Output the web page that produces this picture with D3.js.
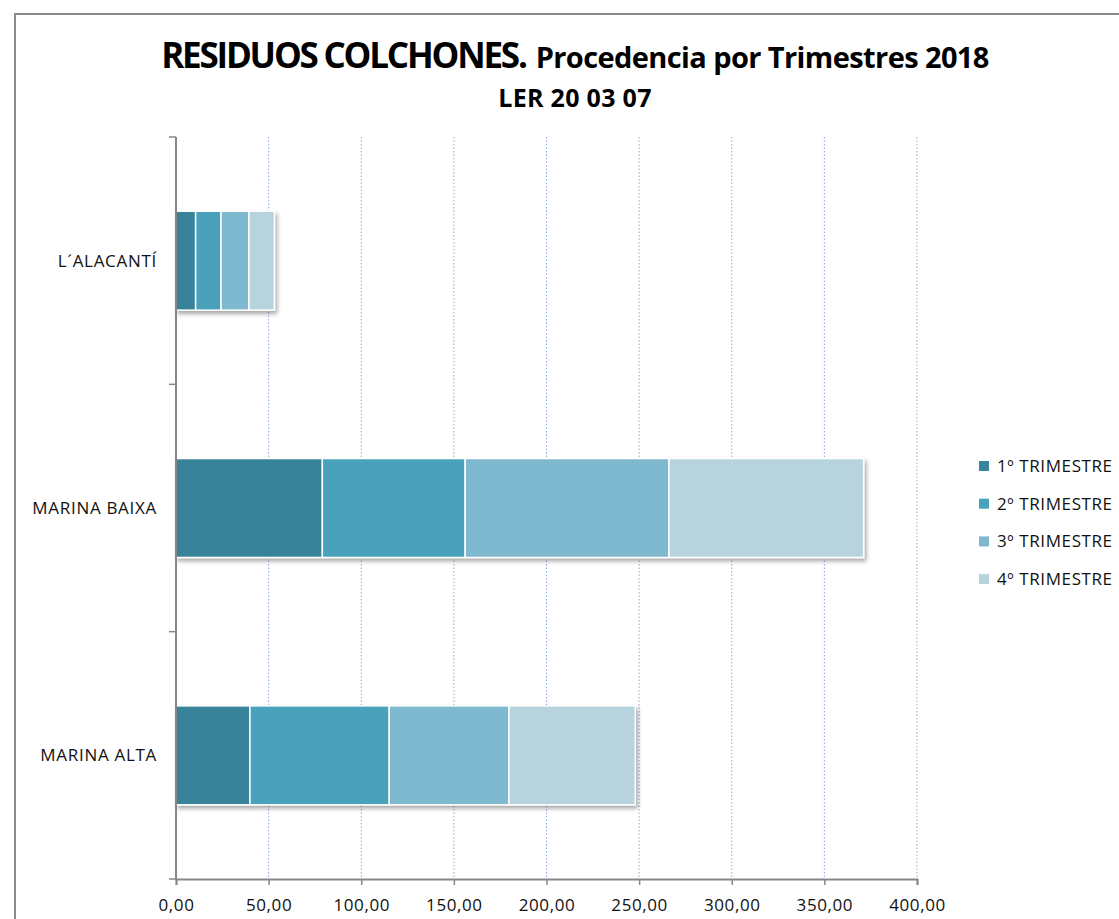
<!DOCTYPE html>
<html>
<head>
<meta charset="utf-8">
<script src="https://d3js.org/d3.v7.min.js"></script>
<style>
  body { margin: 0; background: #fff; }
  text { font-family: "Open Sans", "Noto Sans", sans-serif; }
</style>
</head>
<body>
<script>
var width = 1119,
    height = 919;

// data
var categories = ["L´ALACANTÍ", "MARINA BAIXA", "MARINA ALTA"];
var seriesNames = ["1º TRIMESTRE", "2º TRIMESTRE", "3º TRIMESTRE", "4º TRIMESTRE"];
var t1 = [10.6, 79.0, 39.9],
    t2 = [13.7, 77.1, 75.2],
    t3 = [15.0, 110.0, 64.6],
    t4 = [13.8, 105.1, 68.2];
var xTicks = [0, 50, 100, 150, 200, 250, 300, 350, 400];
var colors = ["#37839a", "#48a1bb", "#7eb9cf", "#b7d4de"];

var margin = {left: 176, top: 137};
var plotW = 917 - 176,
    plotH = 879 - 137;

var locale = d3.formatLocale({decimal: ",", thousands: ".", grouping: [3], currency: ["", "€"]});
var fmt = locale.format(".2f");

var svg = d3.select("body").append("svg")
    .attr("width", width)
    .attr("height", height);

var defs = svg.append("defs");
var shadow = defs.append("filter")
    .attr("id", "shadow")
    .attr("x", "-5%").attr("y", "-10%")
    .attr("width", "115%").attr("height", "140%");
shadow.append("feDropShadow")
    .attr("dx", 2).attr("dy", 3)
    .attr("stdDeviation", 2)
    .attr("flood-color", "#000")
    .attr("flood-opacity", 0.35);

// outer frame
svg.append("path")
    .attr("d", "M15," + height + " L15,14 L" + width + ",14")
    .attr("fill", "none")
    .attr("stroke", "#8c8c8c")
    .attr("stroke-width", 2);

// title
var title = svg.append("text")
    .attr("x", 575)
    .attr("y", 68)
    .attr("text-anchor", "middle")
    .attr("font-weight", "bold")
    .attr("fill", "#000");
title.append("tspan").attr("font-size", 35).attr("letter-spacing", -2.2).text("RESIDUOS COLCHONES.");
title.append("tspan").attr("font-size", 29).attr("letter-spacing", -0.6).attr("dx", 10).text("Procedencia por Trimestres 2018");

svg.append("text")
    .attr("x", 575)
    .attr("y", 107)
    .attr("text-anchor", "middle")
    .attr("font-weight", "bold")
    .attr("font-size", 25)
    .attr("letter-spacing", 0.3)
    .text("LER 20 03 07");

var g = svg.append("g")
    .attr("transform", "translate(" + margin.left + "," + margin.top + ")");

var x = d3.scaleLinear().domain([0, 400]).range([0, plotW]);
var y = d3.scaleBand().domain(categories).range([0, plotH]).paddingInner(0.6).paddingOuter(0.3);
var yBand = d3.scaleBand().domain(categories).range([0, plotH]);

// gridlines
g.append("g")
    .selectAll("line")
    .data(xTicks.slice(1))
    .join("line")
    .attr("x1", d => x(d)).attr("x2", d => x(d))
    .attr("y1", 0).attr("y2", plotH)
    .attr("stroke", "#8fa8dc")
    .attr("stroke-width", 1)
    .attr("stroke-dasharray", "1.5,2");

// stacked bars
var rows = categories.map(function(c, i) {
    return {cat: c, vals: [t1[i], t2[i], t3[i], t4[i]]};
});

var rowG = g.append("g")
    .selectAll("g")
    .data(rows)
    .join("g")
    .attr("filter", "url(#shadow)");

rowG.each(function(r) {
    var acc = 0;
    var segs = r.vals.map(function(v, k) {
        var s = {x0: acc, x1: acc + v, k: k};
        acc += v;
        return s;
    });
    d3.select(this).selectAll("rect")
        .data(segs)
        .join("rect")
        .attr("x", d => x(d.x0))
        .attr("width", d => x(d.x1) - x(d.x0))
        .attr("y", y(r.cat))
        .attr("height", y.bandwidth())
        .attr("fill", d => colors[d.k])
        .attr("stroke", "#fff")
        .attr("stroke-width", 1.5);
});

// y axis
g.append("line")
    .attr("x1", 0).attr("x2", 0)
    .attr("y1", 0).attr("y2", plotH)
    .attr("stroke", "#868686")
    .attr("stroke-width", 2);

var yTickPos = [0, 1, 2, 3].map(i => i * yBand.step());
g.append("g")
    .selectAll("line")
    .data(yTickPos)
    .join("line")
    .attr("x1", -7).attr("x2", 0)
    .attr("y1", d => d).attr("y2", d => d)
    .attr("stroke", "#868686")
    .attr("stroke-width", 1.5);

g.append("g")
    .selectAll("text")
    .data(categories)
    .join("text")
    .attr("x", -19)
    .attr("y", d => yBand(d) + yBand.bandwidth() / 2)
    .attr("dy", "0.35em")
    .attr("text-anchor", "end")
    .attr("font-size", 17)
    .attr("letter-spacing", 0.7)
    .attr("fill", "#111")
    .text(d => d);

// x axis
var xAxis = g.append("g")
    .attr("transform", "translate(0," + plotH + ")")
    .call(d3.axisBottom(x).tickValues(xTicks).tickFormat(fmt).tickSize(6).tickPadding(14));
xAxis.select(".domain").attr("stroke", "#868686").attr("stroke-width", 2);
xAxis.selectAll(".tick line").attr("stroke", "#868686").attr("stroke-width", 1.5);
xAxis.selectAll(".tick text")
    .attr("font-family", "'Open Sans', sans-serif")
    .attr("font-size", 17)
    .attr("letter-spacing", 0.6)
    .attr("fill", "#111");

// legend
var legend = svg.append("g")
    .attr("transform", "translate(979,466)");
var li = legend.selectAll("g")
    .data(seriesNames)
    .join("g")
    .attr("transform", (d, i) => "translate(0," + (i * 37.7) + ")");
li.append("rect")
    .attr("x", 0).attr("y", -5)
    .attr("width", 10).attr("height", 10)
    .attr("fill", (d, i) => colors[i]);
li.append("text")
    .attr("x", 18)
    .attr("y", 0)
    .attr("dy", "0.35em")
    .attr("font-size", 17)
    .attr("letter-spacing", 0.6)
    .attr("fill", "#111")
    .text(d => d);
</script>
</body>
</html>
